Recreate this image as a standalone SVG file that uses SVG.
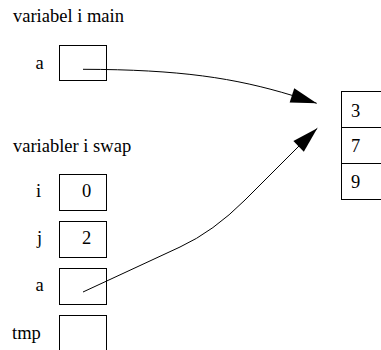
<svg xmlns="http://www.w3.org/2000/svg" width="381" height="350" viewBox="0 0 381 350">
  <style>
    text { font-family: "Liberation Serif", "Times New Roman", serif; font-size: 18.5px; fill: #000; }
    .cell { fill: #fff; stroke: #000; stroke-width: 1; }
    .ptr { fill: none; stroke: #000; stroke-width: 1; }
  </style>
  <defs>
    <marker id="head" markerUnits="userSpaceOnUse" markerWidth="30" markerHeight="18" refX="26" refY="7.5" orient="auto" overflow="visible">
      <path d="M0,0 L26,7.5 L0,15 Z" fill="#000"/>
    </marker>
  </defs>
  <rect width="381" height="350" fill="#fff"/>

  <!-- section headings -->
  <text x="13" y="22">variabel i main</text>
  <text x="13" y="152">variabler i swap</text>

  <!-- variable in main -->
  <g id="main-a">
    <text x="35.5" y="68.5">a</text>
    <rect class="cell" x="59.5" y="45.5" width="47" height="35"/>
  </g>

  <!-- variables in swap -->
  <g id="swap-i">
    <text x="36" y="197">i</text>
    <rect class="cell" x="59.5" y="174.5" width="47" height="36"/>
    <text x="82" y="197">0</text>
  </g>
  <g id="swap-j">
    <text x="37" y="244">j</text>
    <rect class="cell" x="59.5" y="221.5" width="47" height="36"/>
    <text x="82" y="244">2</text>
  </g>
  <g id="swap-a">
    <text x="35.5" y="291">a</text>
    <rect class="cell" x="59.5" y="268.5" width="47" height="36"/>
  </g>
  <g id="swap-tmp">
    <text x="12" y="338.5">tmp</text>
    <rect class="cell" x="59.5" y="315.5" width="47" height="45"/>
  </g>

  <!-- array on the heap -->
  <g id="array">
    <rect class="cell" x="341.5" y="91.5" width="60" height="36"/>
    <rect class="cell" x="341.5" y="127.5" width="60" height="36"/>
    <rect class="cell" x="341.5" y="163.5" width="60" height="36"/>
    <text x="351" y="116.5">3</text>
    <text x="351" y="152">7</text>
    <text x="351" y="187.5">9</text>
  </g>

  <!-- references to the array -->
  <g id="connectors">
    <path class="ptr" d="M83,69.3 C180,69.5 235,78 292.5,95.5 L316.7,103.3" marker-end="url(#head)"/>
    <path class="ptr" d="M83,292 L180,247 Q213.3,231.7 245,200 L299.3,145.7 L317.3,128.3" marker-end="url(#head)"/>
  </g>
</svg>
